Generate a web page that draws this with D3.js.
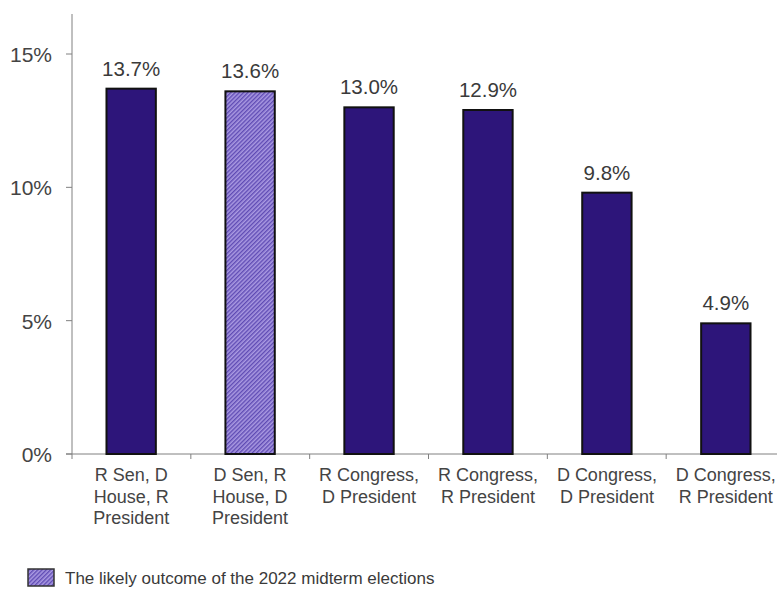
<!DOCTYPE html>
<html>
<head>
<meta charset="utf-8">
<script src="https://cdn.jsdelivr.net/npm/d3@7"></script>
<style>
  body { margin: 0; background: #fff; }
  svg { font-family: "Liberation Sans", Arial, sans-serif; }
</style>
</head>
<body>
<svg id="chart" width="777" height="591"></svg>
<script>
const categories = [
  ["R Sen, D", "House, R", "President"],
  ["D Sen, R", "House, D", "President"],
  ["R Congress,", "D President"],
  ["R Congress,", "R President"],
  ["D Congress,", "D President"],
  ["D Congress,", "R President"]
]
const values = [13.7, 13.6, 13.0, 12.9, 9.8, 4.9]
const likely = [false, true, false, false, false, false]
const yTicks = [0, 5, 10, 15]
const legendText = "The likely outcome of the 2022 midterm elections"

const svg = d3.select('#chart')

const x = d3.scaleBand()
  .domain(d3.range(categories.length))
  .range([72, 785])
  .paddingInner(0.585)
  .paddingOuter(0.29)

const xTick = d3.scaleLinear().domain([0, categories.length]).range([72, 785])

const y = d3.scaleLinear().domain([0, 16.5]).range([454, 14])

// hatch pattern for the likely outcome
const pat = svg.append('defs').append('pattern')
  .attr('id', 'hatch')
  .attr('patternUnits', 'userSpaceOnUse')
  .attr('width', 3).attr('height', 3)
  .attr('patternTransform', 'rotate(45)')
pat.append('rect').attr('width', 3).attr('height', 3).attr('fill', '#aa9ae2')
pat.append('rect').attr('width', 1.4).attr('height', 3).attr('fill', '#5f4bb4')

// y axis
svg.append('line')
  .attr('x1', 72).attr('x2', 72)
  .attr('y1', y.range()[1]).attr('y2', y(0))
  .attr('stroke', '#808080').attr('stroke-width', 1)

svg.selectAll('.ytick')
  .data(yTicks)
  .enter()
  .append('line')
  .attr('x1', 66).attr('x2', 72)
  .attr('y1', d => y(d)).attr('y2', d => y(d))
  .attr('stroke', '#808080')

svg.selectAll('.ylab')
  .data(yTicks)
  .enter()
  .append('text')
  .attr('x', 52)
  .attr('y', d => y(d) + 8)
  .attr('text-anchor', 'end')
  .attr('fill', '#444')
  .style('font-size', '21px')
  .text(d => d + '%')

// x axis
svg.append('line')
  .attr('x1', 66).attr('x2', 777)
  .attr('y1', y(0)).attr('y2', y(0))
  .attr('stroke', '#808080')

svg.selectAll('.xtick')
  .data(d3.range(categories.length))
  .enter()
  .append('line')
  .attr('x1', d => xTick(d)).attr('x2', d => xTick(d))
  .attr('y1', y(0)).attr('y2', y(0) + 5)
  .attr('stroke', '#808080')

// bars
svg.selectAll('.bar')
  .data(values)
  .enter()
  .append('rect')
  .attr('x', (d, i) => x(i))
  .attr('width', x.bandwidth())
  .attr('y', d => y(d))
  .attr('height', d => y(0) - y(d))
  .attr('fill', (d, i) => likely[i] ? 'url(#hatch)' : '#2d157a')
  .attr('stroke', '#111')
  .attr('stroke-width', 2)

// value labels
svg.selectAll('.val')
  .data(values)
  .enter()
  .append('text')
  .attr('x', (d, i) => x(i) + x.bandwidth() / 2)
  .attr('y', d => y(d) - 13)
  .attr('text-anchor', 'middle')
  .attr('fill', '#3a3a3a')
  .style('font-size', '20.5px')
  .text(d => d.toFixed(1) + '%')

// category labels
let cat = svg.selectAll('.cat')
  .data(categories)
  .enter()
  .append('text')
  .attr('text-anchor', 'middle')
  .attr('fill', '#444')
  .style('font-size', '18px')

cat.selectAll('tspan')
  .data((d, i) => d.map(t => ({t, i})))
  .enter()
  .append('tspan')
  .attr('x', d => x(d.i) + x.bandwidth() / 2)
  .attr('y', (d, j) => 481 + j * 21.5)
  .text(d => d.t)

// legend
svg.append('rect')
  .attr('x', 28).attr('y', 569)
  .attr('width', 26).attr('height', 17)
  .attr('fill', 'url(#hatch)')
  .attr('stroke', '#333').attr('stroke-width', 1.5)

svg.append('text')
  .attr('x', 65).attr('y', 584)
  .attr('fill', '#3a3a3a')
  .style('font-size', '17px')
  .text(legendText)
</script>
</body>
</html>
